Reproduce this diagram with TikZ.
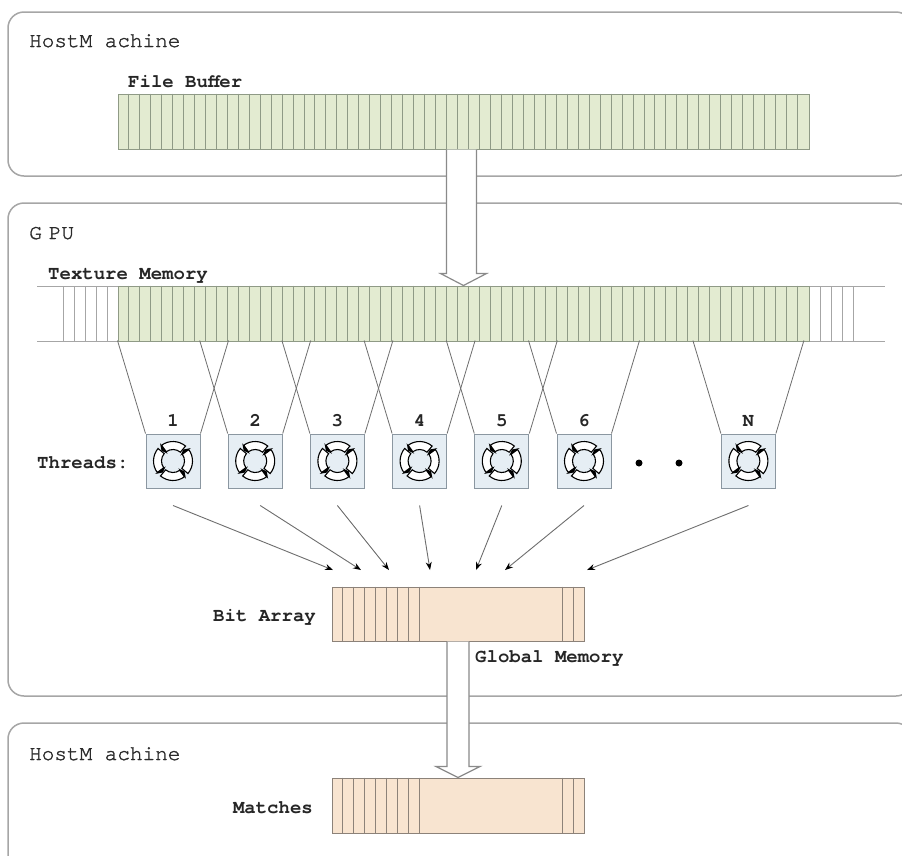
\documentclass[tikz,border=0pt]{standalone}
\usepackage{fontspec}
\setmonofont{TeX Gyre Cursor}
\newfontfamily\titlefont[RawFeature={embolden=1.5}]{TeX Gyre Cursor}
\usetikzlibrary{calc,arrows.meta}
\definecolor{boxgray}{HTML}{A6A6A6}
\definecolor{greenfill}{HTML}{E3EBD1}
\definecolor{greenline}{HTML}{8F9A86}
\definecolor{peachfill}{HTML}{F8E4D0}
\definecolor{peachline}{HTML}{8C8279}
\definecolor{bluefill}{HTML}{E6EEF4}
\definecolor{blueline}{HTML}{8B97A1}
\definecolor{fangray}{HTML}{6E6E6E}
\definecolor{titlegray}{HTML}{2A2A2A}
\definecolor{arrgray}{HTML}{8A8A8A}
\tikzset{
  region/.style={draw=boxgray, line width=1.5pt, rounded corners=16pt},
  title/.style={anchor=base west, inner sep=0pt, font=\titlefont\fontsize{21}{21}\selectfont, text=titlegray},
  lbl/.style={inner sep=0pt, font=\ttfamily\bfseries\fontsize{19}{19}\selectfont, text=black!85},
  greenbar/.style={draw=greenline, fill=greenfill, line width=1pt, minimum width=691pt, minimum height=55pt, inner sep=0pt},
  peachbar/.style={draw=peachline, fill=peachfill, line width=1pt, minimum width=252pt, minimum height=54pt, inner sep=0pt},
  greencell/.style={draw=greenline, line width=0.9pt},
  peachcell/.style={draw=peachline, line width=0.9pt},
  whitecell/.style={draw=boxgray, line width=0.9pt},
  threadbox/.style={draw=blueline, fill=bluefill, line width=1pt, minimum width=54pt, minimum height=54pt, inner sep=0pt},
  fanline/.style={draw=fangray, line width=0.8pt},
  toarray/.style={draw=fangray, line width=0.9pt, -{Stealth[length=8pt,width=6pt,black]}},
  blockarr/.style={draw=arrgray, fill=white, line width=1.2pt, line join=miter},
  dotnode/.style={circle, fill=black, inner sep=0pt, minimum size=7pt},
  cycleicon/.pic={
    \foreach \a in {0,90,180,270}{
      \draw[line width=1.1pt, fill=white] (\a-40:19.5pt) arc[start angle=\a-40, end angle=\a+36, radius=19.5pt]
        -- (\a+36:11.5pt) arc[start angle=\a+36, end angle=\a-40, radius=11.5pt] -- cycle;
      \fill (\a+36:22pt) -- (\a+36:9pt) -- (\a+48:15.5pt) -- cycle;
    }
  }
}
\begin{document}
\begin{tikzpicture}[x=1pt,y=-1pt]
\fill[white] (0,0) rectangle (902,855);
\useasboundingbox (0,0) rectangle (902,855);

% regions
\draw[region] (8,12) rectangle (912,176);
\draw[region] (8,203) rectangle (912,696);
\draw[region] (8,723) rectangle (912,880);

\node[title] (tHost1) at (29,47) {HostM achine};
\node[title] (tGPU) at (29,239) {G\kern7pt PU};
\node[title] (tHost2) at (29,760) {HostM achine};

% file buffer
\node[greenbar] (fb) at (463.5,121.5) {};
\foreach \k in {1,...,62}
  \draw[greencell] ($(fb.north west)+(\k*10.968,0)$) -- ($(fb.south west)+(\k*10.968,0)$);
\node[lbl, anchor=base west] (lfb) at (128,87) {File Buffer};

% texture memory
\draw[whitecell] (37,286) -- (885,286);
\draw[whitecell] (37,341) -- (885,341);
\foreach \x in {63,74,85,96,107,820,831,842,853}
  \draw[whitecell] (\x,286) -- (\x,341);
\node[greenbar] (tm) at (463.5,313.5) {};
\foreach \k in {1,...,62}
  \draw[greencell] ($(tm.north west)+(\k*10.968,0)$) -- ($(tm.south west)+(\k*10.968,0)$);
\node[lbl, anchor=base west] (ltm) at (48,279) {Texture Memory};

% threads
\node[lbl, anchor=base west] (lthreads) at (37,468) {Threads:};
\foreach \n/\cx/\t in {t1/173/1, t2/255.2/2, t3/337.4/3, t4/419.6/4, t5/501.8/5, t6/584/6, tN/748.4/N}{
  \node[threadbox] (\n) at (\cx,461) {};
  \pic at (\n.center) {cycleicon};
  \node[lbl] (num\n) at ($(\n.north)+(0,-13)$) {\t};
  \draw[fanline] ($(\n.north west)+(-28,-93)$) -- (\n.north west);
  \draw[fanline] ($(\n.north east)+(28,-93)$) -- (\n.north east);
}
\node[dotnode] (dot1) at (639,463) {};
\node[dotnode] (dot2) at (679,463) {};

% bit array
\node[peachbar] (ba) at (458,614) {};
\foreach \k in {1,...,8}
  \draw[peachcell] ($(ba.north west)+(\k*11,0)$) -- ($(ba.south west)+(\k*11,0)$);
\foreach \k in {1,2}
  \draw[peachcell] ($(ba.north east)+(-\k*11,0)$) -- ($(ba.south east)+(-\k*11,0)$);
\node[lbl, anchor=base east] (lba) at (316,621) {Bit Array};
\node[lbl, anchor=base west] (lgm) at (475,662) {Global Memory};

% arrows to bit array
\coordinate (a1) at (333,570);
\coordinate (a2) at (361,570);
\coordinate (a3) at (389,570);
\coordinate (a4) at (430,570);
\coordinate (a5) at (476,570);
\coordinate (a6) at (505,570);
\coordinate (a7) at (587,570);
\draw[toarray] ($(t1.south)+(0,17)$) -- (a1);
\draw[toarray] ($(t2.south)+(5,17)$) -- (a2);
\draw[toarray] ($(t3.south)+(0,17)$) -- (a3);
\draw[toarray] ($(t4.south)+(0,17)$) -- (a4);
\draw[toarray] ($(t5.south)+(0,17)$) -- (a5);
\draw[toarray] ($(t6.south)+(0,17)$) -- (a6);
\draw[toarray] ($(tN.south)+(0,17)$) -- (a7);

% matches
\node[peachbar, minimum height=55pt] (mt) at (458,805.5) {};
\foreach \k in {1,...,8}
  \draw[peachcell] ($(mt.north west)+(\k*11,0)$) -- ($(mt.south west)+(\k*11,0)$);
\foreach \k in {1,2}
  \draw[peachcell] ($(mt.north east)+(-\k*11,0)$) -- ($(mt.south east)+(-\k*11,0)$);
\node[lbl, anchor=base east] (lmt) at (313,813) {Matches};

% block arrows
\draw[blockarr] ($(fb.south)+(-17,0)$) -- ($(tm.north)+(-17,-12)$) -- ($(tm.north)+(-23,-12)$)
  -- (tm.north) -- ($(tm.north)+(23,-12)$) -- ($(tm.north)+(13,-12)$) -- ($(fb.south)+(13,0)$);
\draw[blockarr] ($(ba.south)+(-11,0)$) -- ($(mt.north)+(-11,-11)$) -- ($(mt.north)+(-22,-11)$)
  -- (mt.north) -- ($(mt.north)+(22,-11)$) -- ($(mt.north)+(11,-11)$) -- ($(ba.south)+(11,0)$);
\end{tikzpicture}
\end{document}
